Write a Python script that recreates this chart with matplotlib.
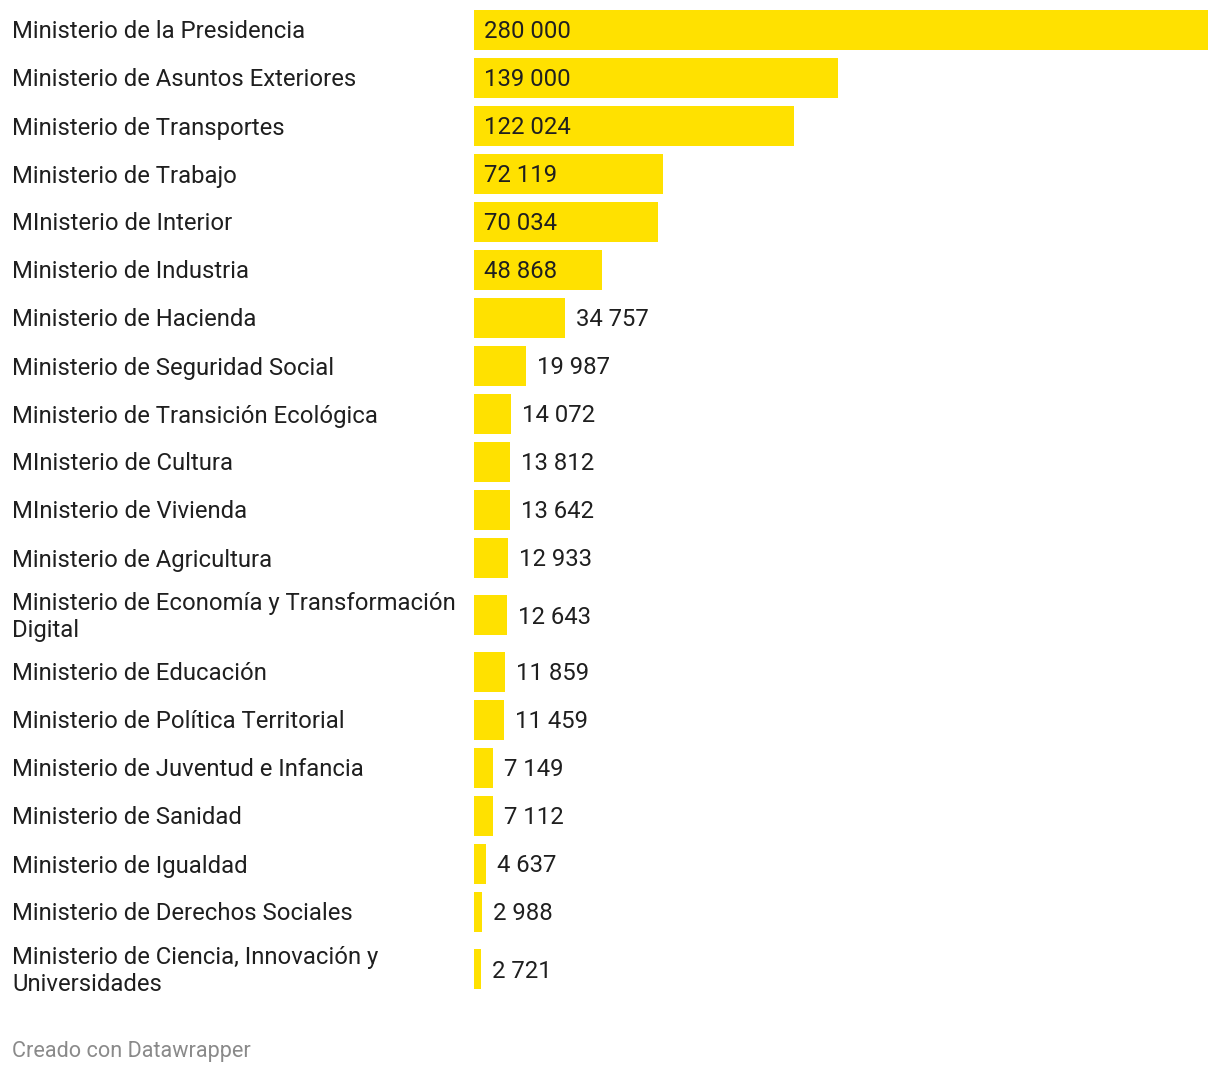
import matplotlib.pyplot as plt

plt.rcParams['font.family'] = ['Roboto', 'DejaVu Sans']

ministerios = [
    "Ministerio de la Presidencia",
    "Ministerio de Asuntos Exteriores",
    "Ministerio de Transportes",
    "Ministerio de Trabajo",
    "MInisterio de Interior",
    "Ministerio de Industria",
    "Ministerio de Hacienda",
    "Ministerio de Seguridad Social",
    "Ministerio de Transición Ecológica",
    "MInisterio de Cultura",
    "MInisterio de Vivienda",
    "Ministerio de Agricultura",
    "Ministerio de Economía y Transformación\nDigital",
    "Ministerio de Educación",
    "Ministerio de Política Territorial",
    "Ministerio de Juventud e Infancia",
    "Ministerio de Sanidad",
    "Ministerio de Igualdad",
    "Ministerio de Derechos Sociales",
    "Ministerio de Ciencia, Innovación y\nUniversidades",
]
valores = [280000, 139000, 122024, 72119, 70034, 48868, 34757, 19987, 14072,
           13812, 13642, 12933, 12643, 11859, 11459, 7149, 7112, 4637, 2988, 2721]

W, H = 1220, 1074
fig = plt.figure(figsize=(W / 100, H / 100), dpi=100)
x0, x1 = 474, 1208
ax = fig.add_axes([x0 / W, 0, (x1 - x0) / W, 1])
ax.set_xlim(0, max(valores))
ax.set_ylim(H, 0)
ax.axis('off')

# row positions in pixels, taller rows for two-line labels
centros = []
y = 6
for m in ministerios:
    h = 66 if "\n" in m else 48
    centros.append(y + h / 2)
    y += h

ax.barh(centros, valores, height=40, color='#ffe100', linewidth=0)

fs = 17.2
col = '#1f1f1f'
xfrac_label = (12 - x0) / (x1 - x0)
for m, v, c in zip(ministerios, valores, centros):
    ax.annotate(m, (xfrac_label, c), xycoords=ax.get_yaxis_transform(),
                xytext=(0, -2), textcoords='offset pixels',
                ha='left', va='center', fontsize=fs, color=col,
                linespacing=1.25)
    txt = f"{v:,}".replace(",", " ")
    if v > 40000:
        ax.annotate(txt, (0, c), xytext=(10, -2), textcoords='offset pixels',
                    ha='left', va='center', fontsize=fs, color=col)
    else:
        ax.annotate(txt, (v, c), xytext=(11, -2), textcoords='offset pixels',
                    ha='left', va='center', fontsize=fs, color=col)

fig.text(12 / W, 1 - 1052 / H, "Creado con Datawrapper", ha='left', va='center',
         fontsize=15.6, color='#8a8a8a')

fig.savefig('out.png', dpi=100, facecolor='white')
